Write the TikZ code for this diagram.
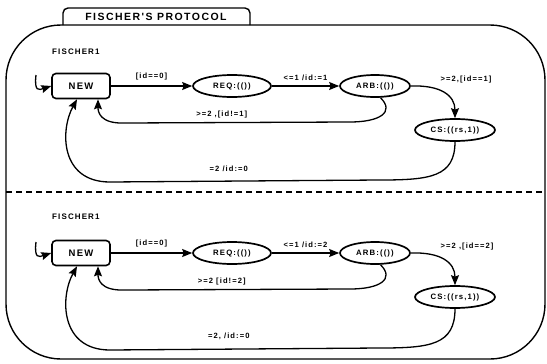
\documentclass[tikz,border=0pt]{standalone}
\usepackage{fontspec}
\usepackage{tikz}
\usetikzlibrary{arrows.meta,shapes.geometric,positioning}
\newfontfamily\plotfont{Liberation Sans}[LetterSpace=14]
\tikzset{
  frameline/.style={draw=black,line width=1.4pt},
  tabtext/.style={font=\plotfont\bfseries\fontsize{10.5}{12}\selectfont,inner sep=0pt},
  proclabel/.style={font=\plotfont\bfseries\fontsize{8}{9}\selectfont,inner sep=0pt},
  initloc/.style={draw=black,line width=1.6pt,rounded corners=4pt,
                  minimum width=58pt,minimum height=25pt,inner sep=1pt,
                  font=\plotfont\bfseries\fontsize{9.5}{10}\selectfont},
  loc/.style={ellipse,draw=black,line width=1.7pt,minimum height=22pt,
              inner sep=1pt,font=\plotfont\bfseries\fontsize{7.8}{8}\selectfont},
  trans/.style={-{Stealth[length=10pt,width=8pt,inset=1.5pt]},line width=1.3pt},
  guard/.style={font=\plotfont\bfseries\fontsize{7.6}{8}\selectfont,inner sep=1pt}
}

\begin{document}
\begin{tikzpicture}[x=1pt,y=-1pt]
    \useasboundingbox (0,0) rectangle (547,364);
    % outer frame and title tab
    \draw[frameline,rounded corners=55pt] (6,25) rectangle (545,359);
    \draw[frameline,rounded corners=5pt] (63,25) -- (63,8) -- (250,8) -- (250,25);
    \node[tabtext] (title) at (156,17) {FISCHER'S PROTOCOL};
    \draw[line width=1.2pt,dash pattern=on 6pt off 4pt] (6,192) -- (545,192);

    % first process
    \node[proclabel,anchor=west] (proc1) at (52,52) {FISCHER1};
    \node[initloc] (new1) at (81,86) {NEW};
    \node[loc,minimum width=78pt] (req1) at (232,86) {REQ:(())};
    \node[loc,minimum width=70pt] (arb1) at (375,86) {ARB:(())};
    \node[loc,minimum width=80pt] (cs1) at (455,130) {CS:((rs,1))};
    \coordinate (init1) at (36,75);
    \draw[trans] (init1) .. controls (34,92) and (39,90) .. (new1.west);
    \draw[trans] (new1) -- (req1) node[guard,midway,above=4pt] {[id==0]};
    \draw[trans] (req1) -- (arb1) node[guard,midway,above=4pt] {<=1 /id:=1};
    \draw[trans] (arb1.east) .. controls (440,85) and (455,95) .. (cs1.north)
      node[guard,pos=0.4,anchor=south west,xshift=0pt,yshift=5pt] {>=2,[id==1]};
    \draw[trans] (arb1.-65) .. controls (395,112) and (380,122) .. (350,122)
      -- (125,123) node[guard,pos=0.57,above=3pt] {>=2 ,[id!=1]}
      .. controls (100,124) and (98,112) .. ([xshift=17pt]new1.south);
    \draw[trans] (cs1.south) .. controls (455,177) and (430,180) .. (380,180)
      -- (110,182) node[guard,pos=0.56,above=8pt] {=2 /id:=0}
      .. controls (60,182) and (60,130) .. ([xshift=-4pt]new1.south);

    % second process
    \node[proclabel,anchor=west] (proc2) at (52,217) {FISCHER1};
    \node[initloc] (new2) at (81,253) {NEW};
    \node[loc,minimum width=78pt] (req2) at (232,253) {REQ:(())};
    \node[loc,minimum width=70pt] (arb2) at (375,253) {ARB:(())};
    \node[loc,minimum width=80pt] (cs2) at (455,297) {CS:((rs,1))};
    \coordinate (init2) at (36,242);
    \draw[trans] (init2) .. controls (34,259) and (39,257) .. (new2.west);
    \draw[trans] (new2) -- (req2) node[guard,midway,above=4pt] {[id==0]};
    \draw[trans] (req2) -- (arb2) node[guard,midway,above=4pt] {<=1 /id:=2};
    \draw[trans] (arb2.east) .. controls (440,252) and (455,262) .. (cs2.north)
      node[guard,pos=0.4,anchor=south west,xshift=0pt,yshift=5pt] {>=2 ,[id==2]};
    \draw[trans] (arb2.-65) .. controls (395,279) and (380,289) .. (350,289)
      -- (125,290) node[guard,pos=0.57,above=3pt] {>=2 [id!=2]}
      .. controls (100,291) and (98,279) .. ([xshift=17pt]new2.south);
    \draw[trans] (cs2.south) .. controls (455,345) and (430,348) .. (380,348)
      -- (110,350) node[guard,pos=0.56,above=8pt] {=2, /id:=0}
      .. controls (60,350) and (60,297) .. ([xshift=-4pt]new2.south);
  \end{tikzpicture}
\end{document}
